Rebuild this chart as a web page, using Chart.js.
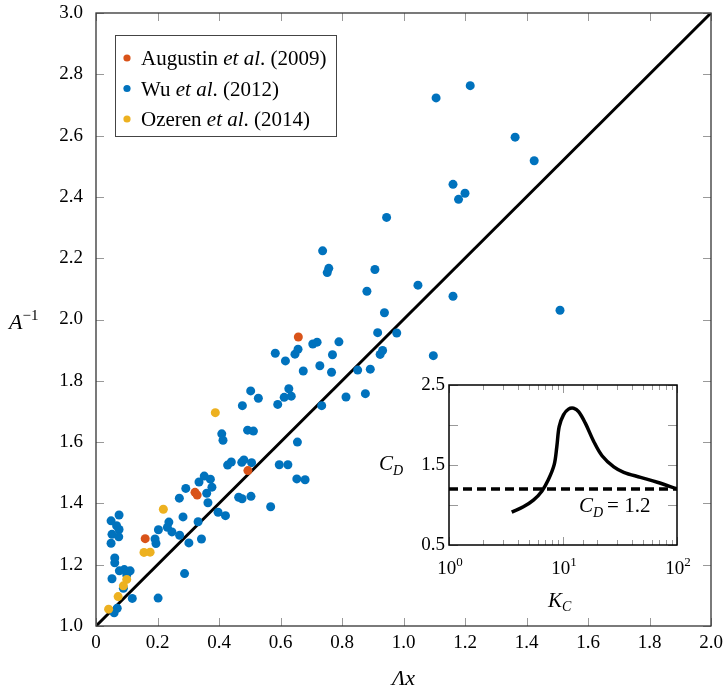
<!DOCTYPE html>
<html>
<head>
<meta charset="utf-8">
<script src="https://cdn.jsdelivr.net/npm/chart.js"></script>
<style>
  body { margin: 0; background: #fff; }
  #wrap { position: relative; width: 723px; height: 688px; }
  #mainChart { position: absolute; left: 0; top: 0; }
  #insetChart { position: absolute; left: 370px; top: 372px; }
</style>
</head>
<body>
<div id="wrap">
  <canvas id="mainChart" width="723" height="688"></canvas>
  <canvas id="insetChart" width="330" height="245"></canvas>
</div>
<script>
// main plot: Λx vs A^-1
var augX = [0.658, 0.160, 0.322, 0.329, 0.494];
var augY = [1.943, 1.285, 1.436, 1.427, 1.507];

var ozX = [0.388, 0.219, 0.156, 0.176, 0.100, 0.089, 0.072, 0.041];
var ozY = [1.696, 1.381, 1.240, 1.241, 1.152, 1.131, 1.096, 1.055];

var wuX = [0.049, 0.075, 0.067, 0.075, 0.052, 0.074, 0.049, 0.061, 0.061, 0.076,
           0.092, 0.111, 0.100, 0.052, 0.089, 0.118, 0.069, 0.059, 0.202, 0.288,
           0.203, 0.192, 0.195, 0.237, 0.232, 0.247, 0.272, 0.302, 0.283, 0.271,
           0.292, 0.332, 0.343, 0.335, 0.352, 0.372, 0.377, 0.360, 0.364, 0.397,
           0.421, 0.409, 0.413, 0.428, 0.440, 0.474, 0.481, 0.506, 0.464, 0.475,
           0.504, 0.493, 0.512, 0.476, 0.503, 0.528, 0.568, 0.596, 0.624, 0.653,
           0.680, 0.655, 0.591, 0.612, 0.627, 0.635, 0.583, 0.616, 0.647, 0.657,
           0.674, 0.705, 0.719, 0.728, 0.734, 0.766, 0.769, 0.790, 0.945, 0.737,
           0.757, 0.752, 0.907, 0.881, 1.047, 1.161, 0.938, 0.916, 0.978, 0.851,
           0.892, 0.924, 0.932, 1.097, 0.813, 0.876, 1.106, 1.217, 1.363, 1.425,
           1.161, 1.200, 1.179, 1.509];
var wuY = [1.343, 1.362, 1.327, 1.315, 1.299, 1.291, 1.270, 1.222, 1.206, 1.180,
           1.184, 1.180, 1.166, 1.154, 1.123, 1.090, 1.058, 1.043, 1.091, 1.171,
           1.314, 1.284, 1.269, 1.339, 1.322, 1.307, 1.296, 1.271, 1.356, 1.417,
           1.449, 1.340, 1.284, 1.470, 1.489, 1.479, 1.453, 1.433, 1.402, 1.371,
           1.360, 1.627, 1.606, 1.525, 1.535, 1.534, 1.542, 1.533, 1.420, 1.415,
           1.423, 1.639, 1.636, 1.719, 1.767, 1.743, 1.389, 1.526, 1.526, 1.480,
           1.477, 1.600, 1.723, 1.746, 1.774, 1.750, 1.890, 1.865, 1.887, 1.903,
           1.832, 1.920, 1.926, 1.849, 1.719, 1.828, 1.885, 1.927, 2.333, 2.224,
           2.167, 2.153, 2.163, 2.092, 2.112, 2.076, 2.022, 1.957, 1.956, 1.835,
           1.838, 1.886, 1.899, 1.882, 1.747, 1.758, 2.723, 2.763, 2.595, 2.518,
           2.441, 2.412, 2.392, 2.030];

var lineX = [0, 2];
var lineY = [1, 3];

var seriesNames = ['Augustin', 'Wu', 'Ozeren'];
var seriesYears = ['(2009)', '(2012)', '(2014)'];
var seriesColors = ['#D95319', '#0072BD', '#EDB120'];

// inset: CD vs KC
var kc = [3.55, 4.49, 5.50, 6.52, 7.45, 8.37, 8.83, 9.26, 10.1, 11.17,
          12.4, 13.7, 15.7, 18.6, 22.0, 27.9, 34.1, 47.9, 67.2, 100];
var cd = [0.911, 0.978, 1.061, 1.173, 1.318, 1.504, 1.732, 1.981, 2.127, 2.198,
          2.210, 2.168, 2.023, 1.794, 1.616, 1.476, 1.409, 1.346, 1.284, 1.202];
var cdRefX = [1, 100];
var cdRefY = [1.2, 1.2];
var kcTickValues = [1, 10, 100];
var kcTickExp = ['0', '1', '2'];

var serif = 'Liberation Serif';

function pts(xs, ys) {
    return xs.map(function (x, i) { return {x: x, y: ys[i]}; });
}

// let the layout padding alone decide where the plot box goes
function noPad(s) {
    s.paddingTop = 0; s.paddingBottom = 0; s.paddingLeft = 0; s.paddingRight = 0;
}

function drawTicks(chart, opts) {
    var ctx = chart.ctx, a = chart.chartArea;
    var xs = chart.scales.x, ys = chart.scales.y;
    ctx.save();
    ctx.strokeStyle = opts.tickColor;
    ctx.lineWidth = 1;
    ctx.beginPath();
    xs.ticks.forEach(function (t) {
        var len = opts.xLen;
        if (opts.logX) {
            var lg = Math.log10(t.value);
            len = Math.abs(lg - Math.round(lg)) < 1e-6 ? opts.xLen : opts.xMinor;
        }
        var px = Math.round(xs.getPixelForValue(t.value)) + 0.5;
        ctx.moveTo(px, a.bottom); ctx.lineTo(px, a.bottom - len);
        ctx.moveTo(px, a.top); ctx.lineTo(px, a.top + len);
    });
    ys.ticks.forEach(function (t) {
        var py = Math.round(ys.getPixelForValue(t.value)) + 0.5;
        ctx.moveTo(a.left, py); ctx.lineTo(a.left + opts.yLen, py);
        ctx.moveTo(a.right, py); ctx.lineTo(a.right - opts.yLen, py);
    });
    ctx.stroke();
    ctx.strokeStyle = opts.boxColor;
    ctx.lineWidth = opts.boxWidth;
    ctx.strokeRect(a.left, a.top, a.right - a.left, a.bottom - a.top);
    ctx.restore();
}

// text pieces: [text, font, dy, extra gap]
function drawPieces(ctx, x, y, pieces) {
    pieces.forEach(function (p) {
        ctx.font = p[1];
        ctx.fillText(p[0], x, y + (p[2] || 0));
        x += ctx.measureText(p[0]).width + (p[3] || 0);
    });
}

var mainDecor = {
    id: 'mainDecor',
    afterDatasetsDraw: function (chart) {
        drawTicks(chart, {tickColor: '#999', xLen: 8, yLen: 8, boxColor: '#333', boxWidth: 1.3});
        var ctx = chart.ctx;
        ctx.save();
        ctx.fillStyle = '#000';
        ctx.textBaseline = 'alphabetic';
        ctx.textAlign = 'left';
        // axis titles
        drawPieces(ctx, 9, 329, [['A', 'italic 22px ' + serif], ['\u22121', '15px ' + serif, -9]]);
        ctx.font = 'italic 22px ' + serif;
        var w = ctx.measureText('\u039Bx').width;
        ctx.fillText('\u039Bx', (chart.chartArea.left + chart.chartArea.right) / 2 - w / 2, 685);
        // legend
        ctx.strokeStyle = '#444';
        ctx.lineWidth = 1;
        ctx.fillStyle = '#fff';
        ctx.fillRect(115.5, 35.5, 221, 101);
        ctx.strokeRect(115.5, 35.5, 221, 101);
        for (var i = 0; i < seriesNames.length; i++) {
            var yy = 58 + i * 30.5;
            ctx.fillStyle = seriesColors[i];
            ctx.beginPath();
            ctx.arc(127, yy, 3.6, 0, Math.PI * 2);
            ctx.fill();
            ctx.fillStyle = '#000';
            drawPieces(ctx, 141, yy + 7, [
                [seriesNames[i] + ' ', '21px ' + serif],
                ['et al', 'italic 21px ' + serif],
                ['. ' + seriesYears[i], '21px ' + serif]
            ]);
        }
        ctx.restore();
    }
};

var insetDecor = {
    id: 'insetDecor',
    afterDatasetsDraw: function (chart) {
        drawTicks(chart, {tickColor: '#999', xLen: 8, xMinor: 5, yLen: 9, logX: true, boxColor: '#000', boxWidth: 1.5});
        var ctx = chart.ctx, xs = chart.scales.x;
        ctx.save();
        ctx.fillStyle = '#000';
        ctx.textBaseline = 'alphabetic';
        ctx.textAlign = 'left';
        for (var i = 0; i < kcTickValues.length; i++) {
            var px = xs.getPixelForValue(kcTickValues[i]);
            ctx.font = '19px ' + serif;
            var w1 = ctx.measureText('10').width;
            ctx.font = '13px ' + serif;
            var w2 = ctx.measureText(kcTickExp[i]).width;
            var x0 = px - (w1 + w2) / 2 + 1;
            drawPieces(ctx, x0, 202, [['10', '19px ' + serif], [kcTickExp[i], '13px ' + serif, -8]]);
        }
        drawPieces(ctx, 178, 235, [['K', 'italic 21px ' + serif], ['C', 'italic 14px ' + serif, 4]]);
        drawPieces(ctx, 9, 98, [['C', 'italic 21px ' + serif], ['D', 'italic 14px ' + serif, 5]]);
        drawPieces(ctx, 209, 140, [['C', 'italic 21px ' + serif], ['D', 'italic 14px ' + serif, 5, 4],
                                   ['= 1.2', '21px ' + serif]]);
        ctx.restore();
    }
};

new Chart(document.getElementById('mainChart').getContext('2d'), {
    type: 'scatter',
    data: {
        datasets: [
            {label: 'Augustin et al. (2009)', data: pts(augX, augY), backgroundColor: seriesColors[0],
             pointRadius: 4.5, borderWidth: 0},
            {label: 'Ozeren et al. (2014)', data: pts(ozX, ozY), backgroundColor: seriesColors[2],
             pointRadius: 4.5, borderWidth: 0},
            {label: 'Wu et al. (2012)', data: pts(wuX, wuY), backgroundColor: seriesColors[1],
             pointRadius: 4.5, borderWidth: 0},
            {label: 'y = 1 + x', data: pts(lineX, lineY), showLine: true, borderColor: '#000',
             borderWidth: 3, pointRadius: 0}
        ]
    },
    options: {
        responsive: false,
        animation: false,
        events: [],
        layout: {padding: {top: 13, right: 12, left: 0, bottom: 0}},
        plugins: {legend: {display: false}, tooltip: {enabled: false}},
        scales: {
            x: {
                type: 'linear', min: 0, max: 2,
                afterFit: function (s) { s.height = 62; noPad(s); },
                grid: {display: false, drawTicks: false},
                border: {display: false},
                ticks: {
                    stepSize: 0.2, padding: 6, color: '#000', autoSkip: false, maxRotation: 0,
                    font: {family: serif, size: 19},
                    callback: function (v) { return v === 0 ? '0' : v.toFixed(1); }
                }
            },
            y: {
                type: 'linear', min: 1, max: 3,
                afterFit: function (s) { s.width = 96; noPad(s); },
                grid: {display: false, drawTicks: false},
                border: {display: false},
                ticks: {
                    stepSize: 0.2, padding: 13, color: '#000', autoSkip: false,
                    font: {family: serif, size: 19},
                    callback: function (v) { return v.toFixed(1); }
                }
            }
        }
    },
    plugins: [mainDecor]
});

new Chart(document.getElementById('insetChart').getContext('2d'), {
    type: 'line',
    data: {
        datasets: [
            {label: 'CD', data: pts(kc, cd), borderColor: '#000', borderWidth: 3.5,
             pointRadius: 0, tension: 0.35, fill: false},
            {label: 'CD = 1.2', data: pts(cdRefX, cdRefY), borderColor: '#000', borderWidth: 3.5,
             borderDash: [9, 5], pointRadius: 0, fill: false}
        ]
    },
    options: {
        responsive: false,
        animation: false,
        events: [],
        layout: {padding: {top: 13, right: 23, left: 0, bottom: 0}},
        plugins: {legend: {display: false}, tooltip: {enabled: false}},
        scales: {
            x: {
                type: 'logarithmic', min: 1, max: 100,
                afterFit: function (s) { s.height = 72; noPad(s); },
                grid: {display: false, drawTicks: false},
                border: {display: false},
                ticks: {display: false, autoSkip: false}
            },
            y: {
                type: 'linear', min: 0.5, max: 2.5,
                afterFit: function (s) { s.width = 79; noPad(s); },
                grid: {display: false, drawTicks: false},
                border: {display: false},
                ticks: {
                    stepSize: 0.5, padding: 4, color: '#000', autoSkip: false,
                    font: {family: serif, size: 19},
                    callback: function (v) { return (v === 0.5 || v === 1.5 || v === 2.5) ? v.toFixed(1) : ''; }
                }
            }
        }
    },
    plugins: [insetDecor]
});
</script>
</body>
</html>
